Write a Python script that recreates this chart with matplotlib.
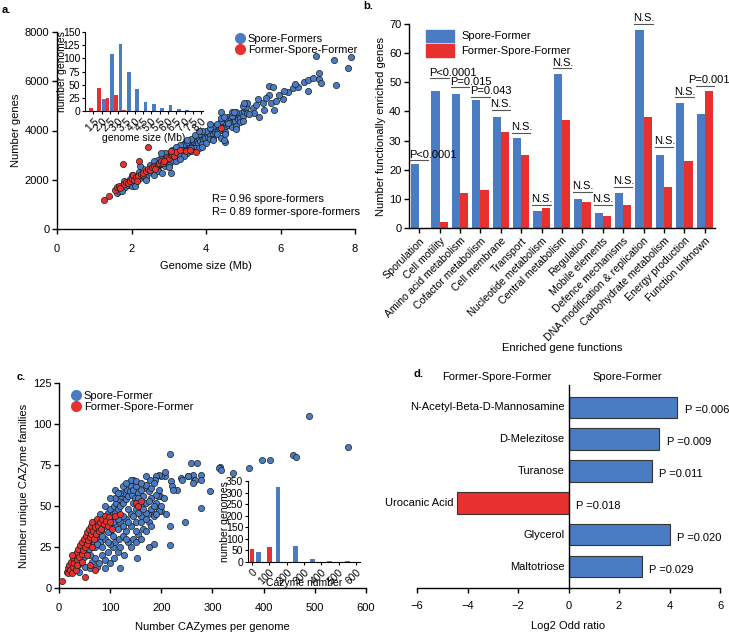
import matplotlib
matplotlib.use('Agg')
import matplotlib.pyplot as plt
from matplotlib.lines import Line2D
from matplotlib.patches import Patch
import numpy as np

plt.rcParams['font.family'] = ['Liberation Sans', 'DejaVu Sans']
plt.rcParams['font.size'] = 8

BLUE = '#4a7cc4'
RED = '#e8312f'
EDGE = '#1c1c1c'

# ---- panel a data: genome size (Mb) vs number of genes ----
a_blue = [(1.62,1480),(1.66,1560),(1.70,1620),(1.72,1700),(1.76,1650),(1.80,1780),(1.83,1720),(1.86,1850),
          (1.90,1800),(1.93,1900),(1.96,1840),(2.00,1950),(2.02,1880),(2.05,2020),(2.08,1960),(2.12,2080),
          (2.15,2000),(2.18,2120),(2.22,2060),(2.25,2180),(2.28,2240),(2.32,2150),(2.35,2290),(2.38,2220),
          (2.42,2350),(2.45,2280),(2.48,2420),(2.52,2380),(2.55,2480),(2.58,2400),(2.62,2540),(2.65,2470),
          (2.68,2600),(2.72,2550),(2.75,2680),(2.78,2620),(2.82,2720),(2.85,2650),(2.88,2800),(2.92,2740),
          (2.95,2860),(2.98,2780),(3.02,2920),(3.05,2850),(3.08,2980),(3.12,2900),(3.15,3050),(3.18,2960),
          (3.22,3100),(3.25,3020),(3.28,3160),(3.32,3080),(3.35,3220),(3.38,3140),(3.42,3280),(3.45,3200),
          (3.48,3350),(3.52,3260),(3.55,3400),(3.58,3320),(3.62,3460),(3.65,3380),(3.68,3520),(3.72,3440),
          (3.75,3580),(3.78,3500),(3.82,3650),(3.85,3560),(3.88,3720),(3.92,3620),(3.95,3780),(3.98,3680),
          (4.02,3840),(4.05,3740),(4.08,3900),(4.12,3800),(4.15,3960),(4.18,3860),(4.22,4020),(4.25,3920),
          (4.28,4080),(4.32,3980),(4.35,4140),(4.38,4040),(4.42,4200),(4.45,4100),(4.48,4260),(4.52,4160),
          (4.55,4320),(4.58,4220),(4.62,4380),(4.65,4280),(4.68,4440),(4.72,4340),(4.75,4500),(4.78,4400),
          (4.82,4560),(4.85,4460),(4.88,4620),(4.92,4520),(4.95,4700),(4.98,4600),(5.02,4800),(5.05,4900),
          (5.08,4960),(5.10,4700),
          (1.75,1550),(1.95,2050),(2.10,1850),(2.30,2350),(2.40,2100),(2.60,2650),(2.70,2400),(2.80,2900),
          (2.90,2550),(3.00,3100),(3.10,2750),(3.20,3250),(3.30,2950),(3.40,3450),(3.50,3100),(3.60,3650),
          (3.70,3300),(3.80,3850),(3.90,3450),(4.00,4000),(4.10,3650),(4.20,4200),(4.30,3850),(4.40,4400),
          (4.50,3950),(4.60,4550),(4.70,4150),(4.80,4750),(4.90,4350),(5.00,5000),
          (2.50,2600),(2.60,2200),(2.90,3050),(3.00,2600),(3.30,3400),(3.40,2950),(3.60,3300),(3.70,3800),
          (3.90,4000),(4.00,3500),(4.20,3650),(4.30,4250),(4.40,3700),(4.60,4300),(4.80,4200),(2.20,2300),
          (2.00,1750),(1.80,1950),(3.10,3200),(3.50,3550),(4.10,4100),(4.70,4600),(2.70,2800),(3.20,2750),
          (3.80,3300),(4.50,4500),
          (2.00,2200),(2.10,1750),(2.30,2450),(2.40,2000),(2.60,2750),(2.70,2350),(2.90,3100),(3.00,2500),
          (3.20,3350),(3.30,2850),(3.50,3600),(3.60,3150),(3.80,4000),(3.90,3350),(4.10,4250),(4.20,3600),
          (4.40,4500),(4.50,3850),(4.70,4750),(4.80,4050),(5.00,4400),(5.10,5100),
          (2.24,2540),(2.78,3090),(2.82,2270),(3.05,2270),(4.50,3550),(4.47,3620),(4.39,4760),(4.47,4550),
          (4.74,4760),(5.01,5120),
          (5.26,4920),(5.28,4720),(5.42,4550),(5.39,5280),(5.53,5120),(5.55,4840),(5.69,5450),(5.69,5810),
          (5.74,5120),(5.80,5770),(5.82,4840),(5.88,5200),(6.06,5280),(6.20,5570),(6.33,5730),(6.47,5770),
          (6.63,5980),(6.74,6060),(6.74,5610),(6.87,6140),(6.95,7030),(7.04,6340),(7.04,6100),(7.10,5930),
          (7.44,6870),(7.50,5850),(7.80,6550),(7.90,7000),(5.15,4650),(5.35,5050),(5.60,5300),(5.95,5450),
          (6.10,5600),(6.40,5900)]
a_red = [(1.27,1180),(1.40,1340),(1.55,1580),(1.62,1700),(1.66,1760),(1.70,1650),(1.78,2640),(1.80,1820),
         (1.85,1900),(1.90,1860),(1.95,1960),(2.00,2040),(2.05,2200),(2.08,1980),(2.12,2100),(2.18,2160),
         (2.21,2760),(2.25,2240),(2.30,2200),(2.32,2280),(2.38,2350),(2.43,3330),(2.45,2420),(2.50,2380),
         (2.55,2500),(2.60,2560),(2.65,2520),(2.70,2640),(2.75,2700),(2.80,2760),(2.85,2680),(2.90,2850),
         (2.95,2920),(3.00,2880),(3.05,3000),(3.10,3060),(3.15,2960),(3.20,3120),(3.30,3220),(3.45,3180),
         (3.58,3210),(3.72,3140),(4.39,4120),(2.15,1950),(2.62,2450),(2.88,2760),(3.05,3150)]

size_bins = ['1.5','2.0','2.5','3.0','3.5','4.0','4.5','5.0','5.5','6.0','6.5','7.0','7.5','8.0']
size_hist_blue = [0, 23, 109, 128, 74, 41, 18, 13, 6, 11, 4, 1, 0.5, 0]
size_hist_red = [5, 43, 24, 31, 2, 0, 0, 0, 0, 0, 0, 0, 0, 0]

# ---- panel b data ----
functions = ['Sporulation','Cell motility','Amino acid metabolism','Cofactor metabolism','Cell membrane',
             'Transport','Nucleotide metabolism','Central metabolism','Regulation','Mobile elements',
             'Defence mechanisms','DNA modification & replication','Carbohydrate metabolism',
             'Energy production','Function unknown']
func_blue = [22, 47, 46, 44, 38, 31, 6, 53, 10, 5, 12, 68, 25, 43, 39]
func_red = [0, 2, 12, 13, 33, 25, 7, 37, 9, 4, 8, 38, 14, 23, 47]
func_sig = ['P<0.0001','P<0.0001','P=0.015','P=0.043','N.S.','N.S.','N.S.','N.S.','N.S.','N.S.',
            'N.S.','N.S.','N.S.','N.S.','P=0.001']
func_sig_y = [23.3, 51.4, 48.3, 45.1, 40.5, 32.6, 7.9, 54.8, 12.4, 7.9, 14.2, 70, 27.9, 44.8, 48.7]

# ---- panel c data: CAZymes per genome vs unique families ----
c_blue = [(489,105),(565,86),(458,81),(464,80),(413,78),(397,78),(372,73),(340,70),(314,74),(312,73),
          (317,72),(277,69),(269,76),(258,76),(262,69),(264,66),(239,67),(252,68),(216,82),(218,65),
          (220,62),(230,60),(223,60),(208,68),(200,68),(196,69),(190,68),(187,66),(177,66),(296,59),
          (277,49),(246,40),(216,38),(216,26),(185,27),(153,18),(144,66),(171,61),(197,56),(193,49),
          (200,47),(184,45),(174,45),(208,71),(194,56),(240,66),(253,68),(266,66),(277,66),(261,64),
          (20,10),(25,13),(30,12),(32,16),(35,18),(38,14),(40,20),(42,17),(45,22),(48,19),(50,25),(52,21),
          (55,28),(58,24),(60,30),(62,26),(65,33),(68,28),(70,35),(72,31),(75,37),(78,33),(80,40),(82,35),
          (85,42),(88,38),(90,44),(92,40),(95,46),(98,42),(100,48),(102,44),(105,45),(108,50),(110,46),
          (112,52),(115,48),(118,54),(120,50),(122,56),(125,52),(128,58),(130,54),(132,60),(135,56),
          (138,59),(140,62),(142,57),(145,60),(148,55),(150,62),(155,58),(160,60),(165,56),(170,63),
          (175,59),(180,61),(185,64),(190,57),
          (40,10),(50,13),(60,12),(65,16),(70,18),(75,13),(78,15),(85,20),(90,17),(95,22),(100,15),
          (105,25),(108,18),(110,28),(115,22),(118,30),(120,25),(125,32),(128,20),(130,35),(135,28),
          (140,38),(145,30),(150,40),(155,33),(160,44),(165,36),(170,46),(175,40),(180,48),(185,44),
          (190,52),(195,47),(100,35),(110,38),(120,40),(130,42),(140,45),(150,48),(160,50),(170,52),
          (180,55),(60,20),(70,25),(80,28),(90,30),(100,27),(85,32),(95,34),(75,27),(105,32),(115,36),
          (125,44),(135,48),(145,52),(155,46),
          (110,55),(120,58),(130,30),(140,25),(150,35),(160,40),(170,42),(180,38),(190,45),(200,50),
          (205,55),(210,45),(120,12),(90,12),(85,25),(95,28),(105,40),(115,42),(125,38),(135,40),
          (145,44),(155,55),(165,48),(175,53),(185,50),(195,60),(150,28),(160,30),(170,35),(175,25),
          (100,55),(110,60),(125,62),(140,66),(150,65),(160,64),(170,68),(115,58),(130,64),(90,50),
          (80,45),(70,40)]
c_red = [(5,4),(15,10),(17,12),(18,9),(20,14),(22,11),(24,16),(25,9),(27,13),(28,18),(30,15),(32,20),
         (33,11),(35,22),(36,17),(38,24),(40,19),(42,26),(44,21),(45,28),(47,23),(48,30),(50,25),(50,7),
         (52,32),(54,27),(55,34),(57,29),(58,36),(60,31),(62,38),(63,33),(65,40),(67,35),(68,30),(70,11),
         (70,37),(72,33),(75,42),(77,38),(78,35),(80,40),(82,36),(85,42),(88,39),(90,44),(92,41),(95,38),
         (98,43),(100,40),(103,36),(110,44),(120,45),(150,52),(155,50),(160,53),(25,20),(35,14),(45,16),
         (55,20),(65,25),(60,14)]

caz_bins_blue = [40, 150, 250, 350, 450, 550]
caz_hist_blue = [45, 325, 70, 15, 5, 4]
caz_bins_red = [0, 100]
caz_hist_red = [57, 65]

# ---- panel d data ----
substrates = ['N-Acetyl-Beta-D-Mannosamine','D-Melezitose','Turanose','Urocanic Acid','Glycerol','Maltotriose']
log2_odds = [4.3, 3.6, 3.3, -4.4, 4.0, 2.9]
substrate_p = ['P =0.006','P =0.009','P =0.011','P =0.018','P =0.020','P =0.029']

W, H = 729, 633
fig = plt.figure(figsize=(W/100, H/100), dpi=100)


def px_axes(l, t, r, b):
    return fig.add_axes([l/W, 1-b/H, (r-l)/W, (b-t)/H])


def style(ax, lw=1.0):
    for s in ['top', 'right']:
        ax.spines[s].set_visible(False)
    for s in ['left', 'bottom']:
        ax.spines[s].set_linewidth(lw)
    ax.tick_params(direction='out', length=3.5, width=lw, labelsize=8, pad=2)


def ftext(x, y, s, **kw):
    fig.text(x/W, 1-y/H, s, **kw)


# panel a
ax = px_axes(57, 32, 355, 229)
style(ax)
bx, by = zip(*a_blue)
rx, ry = zip(*a_red)
ax.scatter(bx, by, s=20, c=BLUE, edgecolors=EDGE, linewidths=0.5, zorder=2)
ax.scatter(rx, ry, s=20, c=RED, edgecolors=EDGE, linewidths=0.5, zorder=3)
ax.set_xlim(0, 8)
ax.set_ylim(0, 8000)
ax.set_xticks([0, 2, 4, 6, 8])
ax.set_yticks([0, 2000, 4000, 6000, 8000])
ax.tick_params(axis='x', pad=7)
ax.set_xlabel('Genome size (Mb)', labelpad=5)
ax.set_ylabel('Number genes', labelpad=3)
ax.text(0.52, 0.06, 'R= 0.96 spore-formers\nR= 0.89 former-spore-formers', transform=ax.transAxes,
        va='bottom', ha='left', linespacing=1.45)
ax.legend(handles=[Line2D([], [], marker='o', ls='', color=BLUE, markersize=7, label='Spore-Formers'),
                   Line2D([], [], marker='o', ls='', color=RED, markersize=7, label='Former-Spore-Former')],
          loc='upper left', bbox_to_anchor=(230/W, 1-28/H), bbox_transform=fig.transFigure,
          frameon=False, borderpad=0, handlelength=0.8, handletextpad=0.3, labelspacing=0.15,
          fontsize=8)

ins = px_axes(85, 32, 203, 111)
style(ins, 0.8)
xi = np.arange(len(size_bins))
ins.bar(xi + 0.28, size_hist_blue, width=0.45, color=BLUE)
ins.bar(xi - 0.28, size_hist_red, width=0.45, color=RED)
ins.set_xlim(-1.0, 13.2)
ins.set_ylim(0, 150)
ins.set_yticks([0, 25, 50, 75, 100, 125, 150])
ins.set_xticks(xi)
ins.set_xticklabels(size_bins, rotation=45, ha='right', rotation_mode='anchor')
ins.tick_params(labelsize=7.5, length=2.5, pad=1)
ins.set_xlabel('genome size (Mb)', fontsize=7.5, labelpad=0)
ins.set_ylabel('number genomes', fontsize=7.5, labelpad=-3)

# panel b
axb = px_axes(409, 24, 715, 228)
style(axb)
xf = np.arange(len(functions))
axb.bar(xf - 0.2, func_blue, width=0.4, color=BLUE)
axb.bar(xf + 0.2, func_red, width=0.4, color=RED)
axb.set_xlim(-0.5, 14.5)
axb.set_ylim(0, 70)
axb.set_yticks(range(0, 71, 10))
axb.set_xticks(xf)
axb.set_xticklabels(functions, rotation=45, ha='right', rotation_mode='anchor', fontsize=7.6)
axb.set_ylabel('Number functionally enriched genes', labelpad=2)
axb.set_xlabel('Enriched gene functions', labelpad=0)
for i, (lab, yl) in enumerate(zip(func_sig, func_sig_y)):
    axb.plot([i - 0.45, i + 0.45], [yl, yl], color='#555555', lw=0.8, clip_on=False)
    if i == len(functions) - 1:
        axb.text(i + 1.2, yl + 0.2, lab, ha='right', va='bottom', fontsize=8, clip_on=False)
    else:
        axb.text(i - 0.5, yl + 0.2, lab, ha='left', va='bottom', fontsize=8, clip_on=False)
axb.legend(handles=[Patch(color=BLUE, label='Spore-Former'), Patch(color=RED, label='Former-Spore-Former')],
           loc='upper left', bbox_to_anchor=(420/W, 1-24/H), bbox_transform=fig.transFigure,
           frameon=False, borderpad=0, handlelength=2.6, handleheight=1.3, handletextpad=0.6,
           labelspacing=0.25, fontsize=8)

# panel c
axc = px_axes(59, 383, 366, 588)
style(axc)
bx, by = zip(*c_blue)
rx, ry = zip(*c_red)
axc.scatter(bx, by, s=20, c=BLUE, edgecolors=EDGE, linewidths=0.5, zorder=2)
axc.scatter(rx, ry, s=20, c=RED, edgecolors=EDGE, linewidths=0.5, zorder=3)
axc.set_xlim(0, 600)
axc.set_ylim(0, 125)
axc.set_xticks(range(0, 601, 100))
axc.set_yticks([0, 25, 50, 75, 100, 125])
axc.tick_params(axis='x', pad=7)
axc.set_xlabel('Number CAZymes per genome', labelpad=7)
axc.set_ylabel('Number unique CAZyme families', labelpad=3)
axc.legend(handles=[Line2D([], [], marker='o', ls='', color=BLUE, markersize=7, label='Spore-Former'),
                    Line2D([], [], marker='o', ls='', color=RED, markersize=7, label='Former-Spore-Former')],
           loc='upper left', bbox_to_anchor=(66/W, 1-385/H), bbox_transform=fig.transFigure,
           frameon=False, borderpad=0, handlelength=0.8, handletextpad=0.3, labelspacing=0.15,
           fontsize=8)

insc = px_axes(248, 481, 360, 562)
style(insc, 0.8)
insc.bar(caz_bins_blue, caz_hist_blue, width=28, color=BLUE)
insc.bar(caz_bins_red, caz_hist_red, width=28, color=RED)
insc.set_xlim(-23, 624)
insc.set_ylim(0, 350)
insc.set_yticks(range(0, 351, 50))
insc.set_xticks(range(0, 601, 100))
insc.set_xticklabels([str(v) for v in range(0, 601, 100)], rotation=45, ha='right', rotation_mode='anchor')
insc.tick_params(labelsize=7.5, length=2.5, pad=1)
insc.set_xlabel('Cazyme number', fontsize=7.5, labelpad=-6)
insc.set_ylabel('number genomes', fontsize=7.5, labelpad=-3)

# panel d
axd = px_axes(417, 385, 720, 588)
for s in ['top', 'right']:
    axd.spines[s].set_visible(False)
axd.spines['left'].set_position(('data', 0))
axd.spines['left'].set_linewidth(1.0)
axd.spines['bottom'].set_linewidth(1.0)
yd = np.arange(len(substrates))
axd.barh(yd, log2_odds, height=0.66, color=[BLUE if v > 0 else RED for v in log2_odds],
         edgecolor='#333333', linewidth=0.8, zorder=2)
axd.set_xlim(-6, 6)
axd.set_ylim(5.66, -0.69)
axd.set_yticks([])
axd.set_xticks(range(-6, 7, 2))
axd.tick_params(axis='x', direction='out', length=3.5, width=1.0, labelsize=8, pad=6)
axd.set_xlabel('Log2 Odd ratio', labelpad=7)
for y, lab, v, p in zip(yd, substrates, log2_odds, substrate_p):
    axd.text(min(v, 0) - 0.15, y, lab, ha='right', va='center', fontsize=8)
    axd.text(max(v, 0) + 0.3, y + 0.1, p, ha='left', va='center', fontsize=8)
ftext(497, 377, 'Former-Spore-Former', ha='center', va='center', fontsize=8)
ftext(627, 377, 'Spore-Former', ha='center', va='center', fontsize=8)

# panel letters
ftext(2, 10, 'a.', fontsize=8, fontweight='bold', va='center')
ftext(363, 6, 'b.', fontsize=8, fontweight='bold', va='center')
ftext(17, 377, 'c.', fontsize=8, fontweight='bold', va='center')
ftext(414, 374, 'd.', fontsize=8, fontweight='bold', va='center')

fig.savefig('out.png', dpi=100)
